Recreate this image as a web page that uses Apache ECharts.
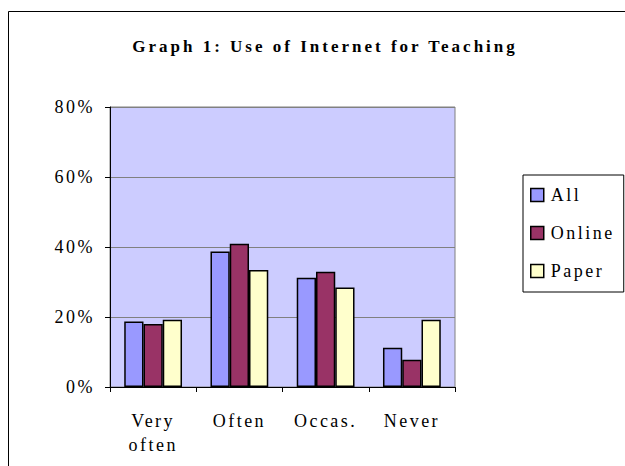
<!DOCTYPE html>
<html>
<head>
<meta charset="utf-8">
<script src="https://cdn.jsdelivr.net/npm/echarts@6/dist/echarts.min.js"></script>
<style>
  html, body { margin: 0; padding: 0; background: #fff; }
  #chart { width: 625px; height: 466px; }
  /* the reference text is spaced out, svg text can do that */
  #chart svg text { letter-spacing: 2.5px; }
  #chart svg text.title-txt { letter-spacing: 3px; }
</style>
</head>
<body>
<div id="chart"></div>
<script>
var categories = ['Very\noften', 'Often', 'Occas.', 'Never'];
var seriesNames = ['All', 'Online', 'Paper'];
var allValues = [18.7, 38.7, 31.2, 11.2];
var onlineValues = [18.0, 40.9, 32.9, 7.8];
var paperValues = [19.2, 33.4, 28.4, 19.2];
var yTicks = [0, 20, 40, 60, 80];

var colors = ['#9999ff', '#993366', '#ffffcc'];
var serif = '"Liberation Serif", "Times New Roman", serif';
var titleText = 'Graph 1: Use of Internet for Teaching';

var chart = echarts.init(document.getElementById('chart'), null, { renderer: 'svg' });

function makeSeries(name, data, color) {
  return {
    name: name,
    type: 'bar',
    data: data,
    barGap: '0%',
    barCategoryGap: '33%',
    itemStyle: { color: color, borderColor: '#000', borderWidth: 1.5 },
    animation: false
  };
}

var option = {
  backgroundColor: '#fff',
  animation: false,
  title: {
    text: titleText,
    left: 320,
    textAlign: 'center',
    top: 33,
    textStyle: { fontFamily: serif, fontWeight: 'bold', fontSize: 17, color: '#000' }
  },
  legend: {
    orient: 'vertical',
    left: 523,
    top: 175,
    padding: [11, 24, 12, 7],
    itemGap: 20,
    itemWidth: 13,
    itemHeight: 13,
    borderColor: '#000',
    borderWidth: 1,
    icon: 'rect',
    itemStyle: { borderColor: '#000', borderWidth: 1.5 },
    textStyle: { fontFamily: serif, fontSize: 18, lineHeight: 18, color: '#000', padding: [0, 0, 0, 2] },
    data: seriesNames
  },
  grid: {
    left: 110,
    right: 170,
    top: 107,
    bottom: 79,
    show: true,
    backgroundColor: '#ccccff',
    borderColor: '#808080',
    borderWidth: 1
  },
  xAxis: {
    type: 'category',
    data: categories,
    axisLine: { lineStyle: { color: '#000', width: 1 } },
    axisTick: { show: true, length: 5, lineStyle: { color: '#000' } },
    axisLabel: { fontFamily: serif, fontSize: 18, color: '#000', margin: 22, lineHeight: 24 }
  },
  yAxis: {
    type: 'value',
    min: yTicks[0],
    max: yTicks[yTicks.length - 1],
    interval: 20,
    axisLine: { show: true, lineStyle: { color: '#000', width: 1 } },
    axisTick: { show: true, length: 5, lineStyle: { color: '#000' } },
    splitLine: { lineStyle: { color: '#808080', width: 1 } },
    axisLabel: { fontFamily: serif, fontSize: 18, color: '#000', margin: 15, formatter: '{value}%' }
  },
  graphic: [{
    type: 'rect',
    shape: { x: 8.5, y: 11.5, width: 700, height: 600 },
    style: { fill: 'none', stroke: '#000', lineWidth: 1 },
    silent: true,
    z: -1
  }],
  series: [
    makeSeries(seriesNames[0], allValues, colors[0]),
    makeSeries(seriesNames[1], onlineValues, colors[1]),
    makeSeries(seriesNames[2], paperValues, colors[2])
  ]
};

chart.setOption(option);

// mark the title so it gets its own spacing
var texts = document.querySelectorAll('#chart svg text');
for (var i = 0; i < texts.length; i++) {
  if (texts[i].textContent === titleText) texts[i].setAttribute('class', 'title-txt');
}
</script>
</body>
</html>
